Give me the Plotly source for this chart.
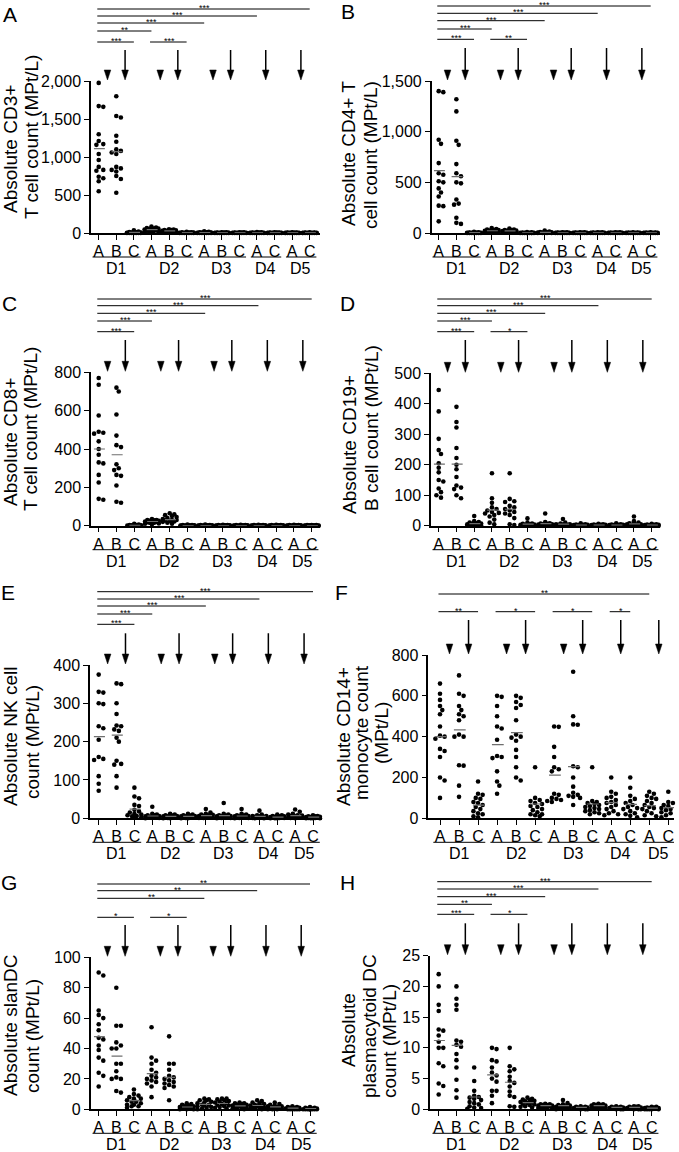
import math
import plotly.graph_objects as go

W, H = 679, 1152
FONT = "Liberation Sans, Arial, sans-serif"

# ---------------- data ----------------
cat_labels = ["A", "B", "C", "A", "B", "C", "A", "B", "C", "A", "C", "A", "C"]
day_labels = ["D1", "D2", "D3", "D4", "D5"]
day_groups = [(0, 2), (3, 5), (6, 8), (9, 10), (11, 12)]
short_arrow_pos = [0.5, 3.5, 6.5]
long_arrow_pos = [1.5, 4.5, 7.5, 9.5, 11.5]

cd3_values = [
    [1975, 1670, 1660, 1300, 1210, 1170, 1160, 1040, 960, 870, 830, 820, 740, 720, 680, 550],
    [1800, 1540, 1520, 1280, 1200, 1100, 1080, 1060, 1040, 870, 850, 830, 810, 750, 710, 530],
    [35, 20, 12, 8, 6, 5, 4, 3, 2, 2, 1, 1, 0, 0, 0],
    [85, 72, 65, 58, 52, 45, 40, 35, 30, 25, 20, 15, 10, 5, 60],
    [50, 45, 40, 38, 35, 30, 28, 25, 22, 20, 15, 12, 10, 8, 30],
    [15, 10, 8, 6, 5, 4, 3, 3, 2, 2, 1, 1, 0, 0, 0],
    [22, 15, 10, 8, 6, 5, 4, 3, 2, 2, 1, 1, 0, 0, 0],
    [10, 8, 6, 5, 4, 3, 3, 2, 2, 1, 1, 1, 0, 0, 0],
    [10, 8, 6, 5, 4, 3, 3, 2, 2, 1, 1, 0, 0, 0, 0],
    [12, 8, 6, 5, 4, 3, 3, 2, 2, 1, 1, 0, 0, 0, 0],
    [10, 7, 6, 5, 4, 3, 2, 2, 1, 1, 1, 0, 0, 0, 0],
    [9, 7, 6, 5, 4, 3, 2, 2, 1, 1, 0, 0, 0, 0, 0],
    [8, 7, 5, 4, 4, 3, 2, 2, 1, 1, 0, 0, 0, 0, 0],
]
cd3_means = [1110, 1070, 8, 45, 28, 4, 5, 3, 3, 3, 3, 3, 3]
cd3_sig = [(0, 12, "***"), (0, 9, "***"), (0, 6, "***"), (0, 3, "**"), (0, 2, "***"), (3, 5, "***")]

cd4_values = [
    [1400, 1390, 920, 880, 690, 590, 575, 510, 500, 440, 400, 360, 270, 265, 115],
    [1320, 1200, 910, 870, 680, 590, 560, 500, 490, 330, 290, 280, 150, 100, 90],
    [12, 8, 5, 4, 3, 2, 2, 1, 1, 1, 0, 0, 0, 0, 0],
    [50, 40, 35, 30, 30, 25, 22, 20, 18, 15, 12, 10, 8, 5, 20],
    [45, 35, 30, 28, 25, 22, 20, 18, 15, 15, 12, 10, 8, 5, 20],
    [10, 6, 4, 3, 2, 2, 1, 1, 1, 0, 0, 0, 0, 0, 0],
    [25, 15, 10, 8, 6, 5, 4, 3, 2, 2, 1, 1, 0, 0, 0],
    [8, 6, 5, 4, 3, 2, 2, 1, 1, 1, 0, 0, 0, 0, 0],
    [8, 6, 5, 4, 3, 2, 2, 1, 1, 1, 0, 0, 0, 0, 0],
    [8, 6, 5, 4, 3, 2, 2, 1, 1, 1, 0, 0, 0, 0, 0],
    [7, 6, 5, 4, 3, 2, 2, 1, 1, 0, 0, 0, 0, 0, 0],
    [7, 5, 4, 3, 3, 2, 2, 1, 1, 0, 0, 0, 0, 0, 0],
    [6, 5, 4, 3, 3, 2, 2, 1, 1, 0, 0, 0, 0, 0, 0],
]
cd4_means = [616, 557, 3, 22, 20, 2, 6, 2, 2, 2, 2, 2, 2]
cd4_sig = [(0, 12, "***"), (0, 9, "***"), (0, 6, "***"), (0, 3, "***"), (0, 2, "***"), (3, 5, "**")]

cd8_values = [
    [770, 735, 575, 490, 485, 480, 440, 400, 370, 330, 325, 265, 225, 140, 135],
    [720, 700, 580, 470, 420, 410, 320, 300, 290, 265, 260, 210, 125, 120],
    [10, 6, 4, 3, 2, 2, 1, 1, 1, 0, 0, 0, 0, 0, 0],
    [35, 30, 28, 25, 22, 20, 18, 15, 12, 10, 30, 25, 20, 15, 8],
    [65, 60, 55, 45, 40, 35, 30, 28, 25, 20, 15, 10, 50, 30, 22],
    [6, 4, 3, 2, 2, 1, 1, 1, 0, 0, 0, 0, 0, 0, 0],
    [6, 4, 3, 2, 2, 1, 1, 1, 0, 0, 0, 0, 0, 0, 0],
    [5, 4, 3, 2, 2, 1, 1, 1, 0, 0, 0, 0, 0, 0, 0],
    [5, 4, 3, 2, 2, 1, 1, 1, 0, 0, 0, 0, 0, 0, 0],
    [5, 4, 3, 2, 2, 1, 1, 1, 0, 0, 0, 0, 0, 0, 0],
    [5, 4, 3, 2, 2, 1, 1, 0, 0, 0, 0, 0, 0, 0, 0],
    [5, 4, 3, 2, 2, 1, 1, 0, 0, 0, 0, 0, 0, 0, 0],
    [4, 3, 3, 2, 2, 1, 1, 0, 0, 0, 0, 0, 0, 0, 0],
]
cd8_means = [400, 370, 2, 22, 32, 1, 1, 1, 1, 1, 1, 1, 1]
cd8_sig = [(0, 12, "***"), (0, 9, "***"), (0, 6, "***"), (0, 3, "***"), (0, 2, "***")]

cd19_values = [
    [445, 375, 285, 248, 235, 205, 190, 175, 150, 145, 122, 110, 100, 92],
    [390, 340, 322, 255, 222, 200, 185, 160, 132, 125, 120, 100, 90],
    [32, 15, 12, 10, 8, 7, 6, 5, 4, 3, 3, 2, 1, 0, 0],
    [172, 90, 75, 60, 55, 50, 45, 42, 40, 35, 30, 20, 10, 5],
    [172, 88, 80, 78, 65, 60, 55, 50, 45, 40, 35, 25, 5, 2],
    [24, 10, 7, 6, 5, 4, 3, 3, 2, 2, 1, 1, 0, 0, 0],
    [40, 12, 8, 7, 6, 5, 5, 4, 3, 3, 2, 1, 1, 0, 0],
    [22, 10, 7, 5, 5, 4, 3, 3, 2, 2, 1, 1, 0, 0, 0],
    [8, 5, 4, 3, 3, 2, 2, 2, 1, 1, 1, 0, 0, 0, 0],
    [6, 5, 4, 3, 3, 2, 2, 2, 1, 1, 1, 0, 0, 0, 0],
    [8, 5, 4, 3, 3, 2, 2, 2, 1, 1, 1, 0, 0, 0, 0],
    [30, 15, 10, 8, 6, 5, 5, 4, 3, 3, 2, 1, 1, 0, 0],
    [6, 5, 4, 3, 3, 2, 2, 1, 1, 1, 0, 0, 0, 0, 0],
]
cd19_means = [202, 202, 7, 51, 54, 5, 7, 5, 2, 2, 2, 6, 2]
cd19_sig = [(0, 12, "***"), (0, 9, "***"), (0, 6, "***"), (0, 3, "***"), (0, 2, "***"), (3, 5, "*")]

nk_values = [
    [375, 330, 328, 300, 298, 240, 235, 205, 160, 155, 152, 110, 90, 72],
    [352, 350, 300, 272, 242, 240, 232, 228, 210, 200, 150, 142, 140, 110, 80],
    [80, 57, 52, 35, 32, 22, 18, 15, 12, 10, 8, 6, 5, 3, 2],
    [30, 12, 10, 8, 8, 6, 5, 5, 4, 3, 3, 2, 1, 1, 0],
    [12, 10, 8, 7, 6, 5, 5, 4, 3, 3, 2, 2, 1, 0, 0],
    [12, 10, 8, 7, 6, 5, 5, 4, 3, 3, 2, 2, 1, 0, 0],
    [24, 15, 12, 10, 9, 8, 6, 6, 5, 4, 3, 3, 2, 1, 1],
    [40, 12, 10, 8, 7, 6, 5, 5, 4, 3, 3, 2, 1, 1, 0],
    [24, 12, 10, 8, 7, 6, 5, 5, 4, 3, 3, 2, 1, 1, 0],
    [20, 10, 8, 6, 6, 5, 4, 4, 3, 2, 2, 1, 1, 0, 0],
    [10, 8, 6, 5, 5, 4, 3, 3, 2, 2, 1, 1, 0, 0, 0],
    [23, 17, 12, 10, 8, 7, 6, 5, 4, 4, 3, 2, 2, 1, 0],
    [8, 6, 5, 5, 4, 3, 3, 2, 2, 1, 1, 0, 0, 0, 0],
]
nk_means = [213, 217, 24, 6, 5, 5, 7, 7, 6, 5, 3, 7, 3]
nk_sig = [(0, 12, "***"), (0, 9, "***"), (0, 6, "***"), (0, 3, "***"), (0, 2, "***")]

cd14_values = [
    [660, 610, 580, 550, 530, 510, 450, 405, 400, 390, 340, 330, 300, 200, 185, 100],
    [700, 610, 600, 550, 530, 510, 500, 480, 410, 400, 400, 260, 258, 160, 105],
    [180, 120, 115, 100, 95, 80, 75, 65, 55, 45, 35, 25, 20, 10, 5],
    [600, 595, 550, 500, 450, 440, 385, 305, 300, 295, 230, 180, 160, 120],
    [600, 590, 570, 555, 540, 480, 410, 400, 395, 380, 335, 300, 250, 200, 185],
    [250, 100, 90, 85, 75, 70, 60, 55, 45, 40, 30, 20, 20, 15, 10],
    [450, 448, 350, 300, 250, 240, 230, 120, 115, 100, 95, 90, 85, 80],
    [718, 500, 460, 458, 255, 250, 200, 155, 125, 115, 110, 105, 100, 65],
    [250, 85, 80, 75, 70, 65, 60, 55, 50, 45, 40, 35, 30, 25, 20],
    [200, 130, 120, 105, 100, 90, 80, 75, 65, 55, 45, 35, 25, 20, 15],
    [200, 150, 110, 95, 85, 75, 65, 55, 50, 45, 35, 25, 20, 12, 5],
    [130, 120, 110, 100, 95, 85, 75, 65, 55, 50, 45, 35, 25, 15, 10],
    [130, 80, 75, 65, 60, 55, 50, 45, 40, 35, 30, 25, 15, 10, 5],
]
cd14_means = [400, 433, 65, 361, 420, 70, 212, 253, 70, 77, 68, 62, 52]
cd14_sig = [(0, 11, "**"), (0, 2, "**"), (3, 5, "*"), (6, 8, "*"), (9, 10, "*")]

slan_values = [
    [90, 88, 65, 62, 60, 56, 52, 47, 46, 42, 39, 34, 32, 24, 22, 15],
    [80, 55, 55, 44, 42, 40, 40, 30, 30, 25, 21, 20, 20, 12, 11],
    [13, 10, 9, 8, 7, 7, 6, 5, 5, 4, 3, 3, 2, 2, 1],
    [54, 34, 32, 30, 26, 24, 22, 21, 20, 19, 18, 17, 15, 8],
    [48, 30, 30, 26, 22, 21, 20, 19, 18, 17, 16, 15, 14, 6],
    [4, 3.5, 3, 2.5, 2, 2, 1.5, 1.5, 1, 1, 0.5, 0.5, 0, 0, 0],
    [7, 6.5, 6, 6, 5, 4.5, 4, 3, 3, 2.5, 2, 1.5, 1, 0.5, 0],
    [7, 7, 6.5, 6, 5.5, 5, 4.5, 4, 3.5, 3, 2.5, 2, 1.5, 1, 0.5],
    [4.5, 4, 4, 3.5, 3, 3, 2.5, 2, 2, 1.5, 1, 1, 0.5, 0.5, 0],
    [6, 5.5, 4.5, 4, 3.5, 3, 2.5, 2, 2, 1.5, 1, 1, 0.5, 0.5, 0],
    [4.5, 3.5, 3, 2.5, 2, 2, 1.5, 1.5, 1, 1, 0.5, 0.5, 0, 0, 0],
    [2, 1.5, 1.5, 1, 1, 1, 0.5, 0.5, 0.5, 0, 0, 0, 0, 0, 0],
    [1.5, 1, 1, 0.5, 0.5, 0.5, 0, 0, 0, 0, 0, 0, 0, 0, 0],
]
slan_means = [47.8, 35, 5.7, 23.5, 21, 1.5, 3.2, 3.8, 2.3, 2.5, 1.6, 0.8, 0.5]
slan_sig = [(0, 12, "**"), (0, 9, "**"), (0, 6, "**"), (0, 2, "*"), (3, 5, "*")]

pdc_values = [
    [22, 20, 17, 16, 13, 12.8, 12, 11, 10, 10, 7.5, 7, 4.2, 3.8, 2.4],
    [20, 18, 17, 16.2, 11.2, 11, 10.5, 10.2, 9, 8, 6.8, 4.8, 3.1, 1.9],
    [6.8, 4.6, 3, 2.2, 2, 1.9, 1.7, 1.5, 1.2, 1, 0.8, 0.5, 0.3, 0.2, 0.1],
    [10, 9.8, 8, 7.8, 6.8, 6, 5.5, 5, 4.5, 3, 3, 2.2, 1],
    [10, 7, 6.5, 6.2, 5.3, 4.6, 4.3, 3.7, 2.9, 2.2, 2, 0.5, 0.4],
    [1.9, 1.7, 1.6, 1.5, 1.4, 1.3, 1.2, 1.1, 1, 0.9, 0.8, 0.7, 0.5, 0.4, 0.3],
    [0.9, 0.8, 0.8, 0.7, 0.7, 0.6, 0.6, 0.5, 0.5, 0.4, 0.3, 0.3, 0.2, 0.2, 0.1],
    [1.5, 1, 0.8, 0.7, 0.6, 0.5, 0.5, 0.4, 0.3, 0.3, 0.2, 0.2, 0.1, 0.1, 0],
    [0.5, 0.4, 0.4, 0.3, 0.3, 0.3, 0.2, 0.2, 0.2, 0.1, 0.1, 0.1, 0, 0, 0],
    [0.9, 0.8, 0.8, 0.7, 0.7, 0.6, 0.6, 0.5, 0.4, 0.3, 0.3, 0.2, 0.2, 0.1, 0.1],
    [0.5, 0.4, 0.4, 0.3, 0.3, 0.3, 0.2, 0.2, 0.2, 0.1, 0.1, 0.1, 0, 0, 0],
    [0.5, 0.5, 0.4, 0.4, 0.3, 0.3, 0.2, 0.2, 0.2, 0.1, 0.1, 0.1, 0, 0, 0],
    [0.4, 0.4, 0.3, 0.3, 0.2, 0.2, 0.2, 0.1, 0.1, 0.1, 0, 0, 0, 0, 0],
]
pdc_means = [11.2, 10.4, 2, 5.6, 4.4, 1.1, 0.6, 0.6, 0.3, 0.6, 0.3, 0.3, 0.2]
pdc_sig = [(0, 12, "***"), (0, 9, "***"), (0, 6, "***"), (0, 3, "**"), (0, 2, "***"), (3, 5, "*")]

# ---------------- layout (pixel geometry) ----------------
panels = [
    dict(letter="A", lpos=(10, 14), vals=cd3_values, means=cd3_means, sig=cd3_sig,
         ymax=2000, dtick=500, xl=91, xr=320, c0=98.7, c12=309.7, y0=233, ytop=81,
         bars_y=[9, 16, 23, 31, 42, 42], arrow_top=50,
         title=[("Absolute CD3+", 10, 149), ("T cell count (MPt/L)", 31, 137)]),
    dict(letter="B", lpos=(348, 12), vals=cd4_values, means=cd4_means, sig=cd4_sig,
         ymax=1500, dtick=500, xl=431.7, xr=660, c0=438.7, c12=650.7, y0=233, ytop=81,
         bars_y=[6, 13.3, 20.7, 29, 39.3, 39.3], arrow_top=48,
         title=[("Absolute CD4+ T", 348, 153), ("cell count (MPt/L)", 370, 155)]),
    dict(letter="C", lpos=(9, 304), vals=cd8_values, means=cd8_means, sig=cd8_sig,
         ymax=800, dtick=200, xl=91, xr=320, c0=98.7, c12=311.7, y0=525.7, ytop=372.3,
         bars_y=[299, 305.7, 313.3, 321, 331.7], arrow_top=340,
         title=[("Absolute CD8+", 10, 442), ("T cell count (MPt/L)", 31, 429)]),
    dict(letter="D", lpos=(348, 304), vals=cd19_values, means=cd19_means, sig=cd19_sig,
         ymax=500, dtick=100, xl=431, xr=660, c0=438.7, c12=651.7, y0=525.7, ytop=373.3,
         bars_y=[299, 305.7, 313.3, 321, 331.7, 331.7], arrow_top=340,
         title=[("Absolute CD19+", 349, 444), ("B cell count (MPt/L)", 371, 428)]),
    dict(letter="E", lpos=(8, 592), vals=nk_values, means=nk_means, sig=nk_sig,
         ymax=400, dtick=100, xl=90, xr=321.7, c0=98.7, c12=313, y0=818.3, ytop=665,
         bars_y=[591.7, 599, 606, 614, 624.3], arrow_top=633.3,
         title=[("Absolute NK cell", 10, 737), ("count (MPt/L)", 32, 742)]),
    dict(letter="F", lpos=(341, 592), vals=cd14_values, means=cd14_means, sig=cd14_sig,
         ymax=800, dtick=200, xl=428.3, xr=674, c0=440, c12=668.3, y0=818.3, ytop=655,
         bars_y=[594, 611.7, 611.7, 611.7, 611.7], arrow_top=620,
         title=[("Absolute CD14+", 343, 737), ("monocyte count", 361, 733), ("(MPt/L)", 381, 733)]),
    dict(letter="G", lpos=(9, 882), vals=slan_values, means=slan_means, sig=slan_sig,
         ymax=100, dtick=20, xl=90.7, xr=318.3, c0=98.7, c12=310, y0=1109.3, ytop=957.3,
         bars_y=[884, 890.7, 898.3, 917.3, 917.3], arrow_top=925,
         title=[("Absolute slanDC", 10, 1025), ("count (MPt/L)", 32, 1036)]),
    dict(letter="H", lpos=(348, 882), vals=pdc_values, means=pdc_means, sig=pdc_sig,
         ymax=25, dtick=5, xl=430, xr=660, c0=438.7, c12=651.7, y0=1109.3, ytop=955.7,
         bars_y=[881.7, 889, 896.7, 904.3, 914.3, 914.3], arrow_top=923.3,
         title=[("Absolute", 348, 1030), ("plasmacytoid DC", 369, 1026), ("count (MPt/L)", 389, 1041)]),
]

DOT = 4.6  # dot diameter in px


def py2paper(py):
    return 1 - py / H


def swarm_offsets(vals, ppy, ppx):
    """Deterministic beeswarm: horizontal offsets (category units) so dots do not overlap."""
    d = DOT
    cands = [0.0]
    for k in range(1, 4):
        cands += [k * d / 2, -k * d / 2]
    order = sorted(range(len(vals)), key=lambda i: -vals[i])
    placed = []
    res = [0.0] * len(vals)
    for i in order:
        y = vals[i] * ppy
        chosen, best_o, best_md = None, 0.0, -1
        for o in cands:
            md = min([math.hypot(o - px, y - yy) for px, yy in placed], default=1e9)
            if md >= d * 0.92:
                chosen = o
                break
            if md > best_md:
                best_md, best_o = md, o
        if chosen is None:
            chosen = best_o
        placed.append((chosen, y))
        res[i] = chosen / ppx
    return res


fig = go.Figure()
layout_axes = {}
shapes = []
annotations = []

for n, p in enumerate(panels, start=1):
    suf = "" if n == 1 else str(n)
    xa, ya = "x" + suf, "y" + suf
    s = (p["c12"] - p["c0"]) / 12.0
    lo = -(p["c0"] - p["xl"]) / s
    hi = 12 + (p["xr"] - p["c12"]) / s
    ppy = (p["y0"] - p["ytop"]) / p["ymax"]

    # dots
    xs, ys = [], []
    for g, vals in enumerate(p["vals"]):
        offs = swarm_offsets(vals, ppy, s)
        xs += [g + o for o in offs]
        ys += list(vals)
    fig.add_trace(go.Scatter(x=xs, y=ys, xaxis=xa, yaxis=ya, mode="markers",
                             marker=dict(size=DOT, color="black"), cliponaxis=False,
                             hoverinfo="skip", showlegend=False))
    # mean lines
    mx, my = [], []
    for g, m in enumerate(p["means"]):
        mx += [g - 0.27, g + 0.35, None]
        my += [m, m, None]
    fig.add_trace(go.Scatter(x=mx, y=my, xaxis=xa, yaxis=ya, mode="lines",
                             line=dict(color="#6e6e6e", width=1.2), cliponaxis=False,
                             hoverinfo="skip", showlegend=False))

    layout_axes["xaxis" + suf] = dict(
        domain=[p["xl"] / W, p["xr"] / W], range=[lo, hi], anchor=ya,
        showline=True, linecolor="black", linewidth=1.5, ticks="outside", ticklen=5,
        tickwidth=1.2, tickcolor="black", tickmode="array", tickvals=list(range(13)),
        ticktext=cat_labels, tickfont=dict(family=FONT, size=16, color="black"),
        ticklabelstandoff=-2,
        showgrid=False, zeroline=False, automargin=False, fixedrange=True)
    layout_axes["yaxis" + suf] = dict(
        domain=[1 - p["y0"] / H, 1 - p["ytop"] / H], range=[0, p["ymax"]], anchor=xa,
        showline=True, linecolor="black", linewidth=1.5, ticks="outside", ticklen=5,
        tickwidth=1.2, tickcolor="black", tickmode="linear", tick0=0, dtick=p["dtick"],
        tickformat=",", tickfont=dict(family=FONT, size=16, color="black"),
        showgrid=False, zeroline=False, automargin=False, fixedrange=True)

    # group underlines + day labels
    for (a, b), lab in zip(day_groups, day_labels):
        shapes.append(dict(type="line", xref=xa, yref="paper", x0=a - 0.35, x1=b + 0.38,
                           y0=py2paper(p["y0"] + 24), y1=py2paper(p["y0"] + 24),
                           line=dict(color="black", width=1)))
        annotations.append(dict(text=lab, xref=xa, yref="paper", x=(a + b) / 2,
                                y=py2paper(p["y0"] + 35.5), xanchor="center", yanchor="middle",
                                showarrow=False, font=dict(family=FONT, size=16, color="black")))

    # significance bars
    for (a, b, stars), by in zip(p["sig"], p["bars_y"]):
        shapes.append(dict(type="line", xref=xa, yref="paper", x0=a - 0.08, x1=b,
                           y0=py2paper(by), y1=py2paper(by), line=dict(color="black", width=1)))
        annotations.append(dict(text=stars, xref=xa, yref="paper", x=(a + b) / 2,
                                y=py2paper(by), xanchor="center", yanchor="bottom", yshift=-6,
                                showarrow=False, font=dict(family=FONT, size=9, color="black")))

    # arrows
    tip = p["ytop"] - 1
    hw = 3.3 / s
    for xpos in short_arrow_pos + long_arrow_pos:
        path = "M {:.4f},{:.5f} L {:.4f},{:.5f} L {:.4f},{:.5f} Z".format(
            xpos - hw, py2paper(tip - 10), xpos + hw, py2paper(tip - 10), xpos, py2paper(tip))
        shapes.append(dict(type="path", xref=xa, yref="paper", path=path,
                           fillcolor="black", line=dict(color="black", width=0.5)))
    for xpos in long_arrow_pos:
        shapes.append(dict(type="line", xref=xa, yref="paper", x0=xpos, x1=xpos,
                           y0=py2paper(p["arrow_top"]), y1=py2paper(tip - 8),
                           line=dict(color="black", width=1.5)))

    # y title lines
    for txt, cx, cy in p["title"]:
        annotations.append(dict(text=txt, xref="paper", yref="paper", x=cx / W, y=py2paper(cy),
                                xanchor="center", yanchor="middle", textangle=-90,
                                showarrow=False, font=dict(family=FONT, size=19, color="black")))
    # panel letter
    lx, ly = p["lpos"]
    annotations.append(dict(text=p["letter"], xref="paper", yref="paper", x=lx / W, y=py2paper(ly),
                            xanchor="center", yanchor="middle", showarrow=False,
                            font=dict(family=FONT, size=21, color="black")))

fig.update_layout(width=W, height=H, autosize=False, margin=dict(l=0, r=0, t=0, b=0),
                  paper_bgcolor="white", plot_bgcolor="white", showlegend=False,
                  shapes=shapes, annotations=annotations, **layout_axes)

fig.write_html(
    "out.html",
    config={"displayModeBar": False},
    post_script="document.body.style.margin='0px';document.body.style.padding='0px';"
                "document.body.style.overflow='hidden';",
)
